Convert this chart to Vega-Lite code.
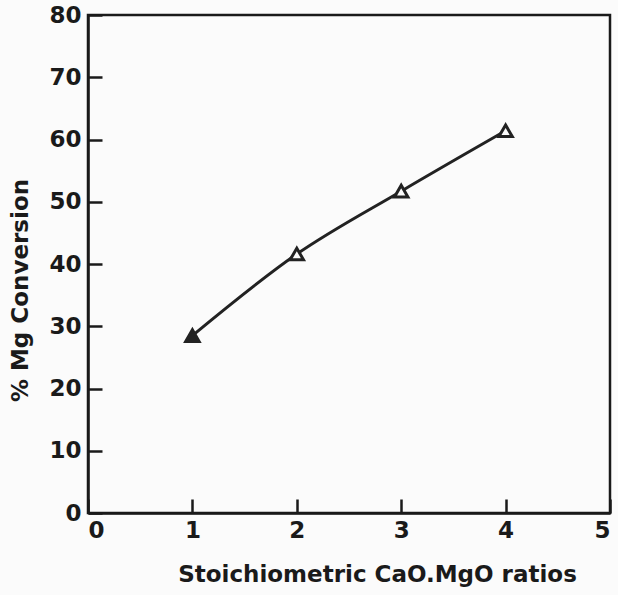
{
  "$schema": "https://vega.github.io/schema/vega-lite/v6.json",
  "autosize": "none",
  "width": 522,
  "height": 498,
  "padding": {"left": 88, "top": 15, "right": 8, "bottom": 82},
  "background": "#fbfbfb",
  "config": {
    "view": {"stroke": "#1a1a1a", "strokeWidth": 2.5},
    "axis": {
      "domainColor": "#1a1a1a", "domainWidth": 2.5,
      "tickColor": "#1a1a1a", "tickWidth": 2.5, "tickSize": -14,
      "labelFont": "DejaVu Sans", "labelFontSize": 23, "labelFontWeight": "bold", "labelColor": "#1a1a1a",
      "titleFont": "DejaVu Sans", "titleFontSize": 23, "titleFontWeight": 600, "titleColor": "#1a1a1a",
      "grid": false
    }
  },
  "data": {
    "values": [
      {"ratio": 1, "conv": 28.5, "filled": "yes"},
      {"ratio": 2, "conv": 41.6, "filled": "no"},
      {"ratio": 3, "conv": 51.7, "filled": "no"},
      {"ratio": 4, "conv": 61.4, "filled": "no"}
    ]
  },
  "encoding": {
    "x": {
      "field": "ratio", "type": "quantitative",
      "scale": {"domain": [0, 5], "nice": false},
      "axis": {"values": [0, 1, 2, 3, 4, 5], "labelPadding": 20, "title": "Stoichiometric CaO.MgO ratios",
               "titleX": 289, "titleY": 50, "titleBaseline": "top"}
    },
    "y": {
      "field": "conv", "type": "quantitative",
      "scale": {"domain": [0, 80], "nice": false},
      "axis": {"values": [0, 10, 20, 30, 40, 50, 60, 70, 80], "labelPadding": 21, "title": "% Mg Conversion",
               "titleX": -68, "titleY": 275, "titleAngle": -90, "titleBaseline": "middle"}
    }
  },
  "layer": [
    {"mark": {"type": "line", "interpolate": "monotone", "color": "#222", "strokeWidth": 3}},
    {
      "mark": {"type": "point", "shape": "triangle-up", "size": 180, "strokeWidth": 3, "stroke": "#222", "opacity": 1},
      "encoding": {
        "fill": {"field": "filled", "type": "nominal", "scale": {"domain": ["yes", "no"], "range": ["#222", "#fbfbfb"]}, "legend": null}
      }
    }
  ]
}
